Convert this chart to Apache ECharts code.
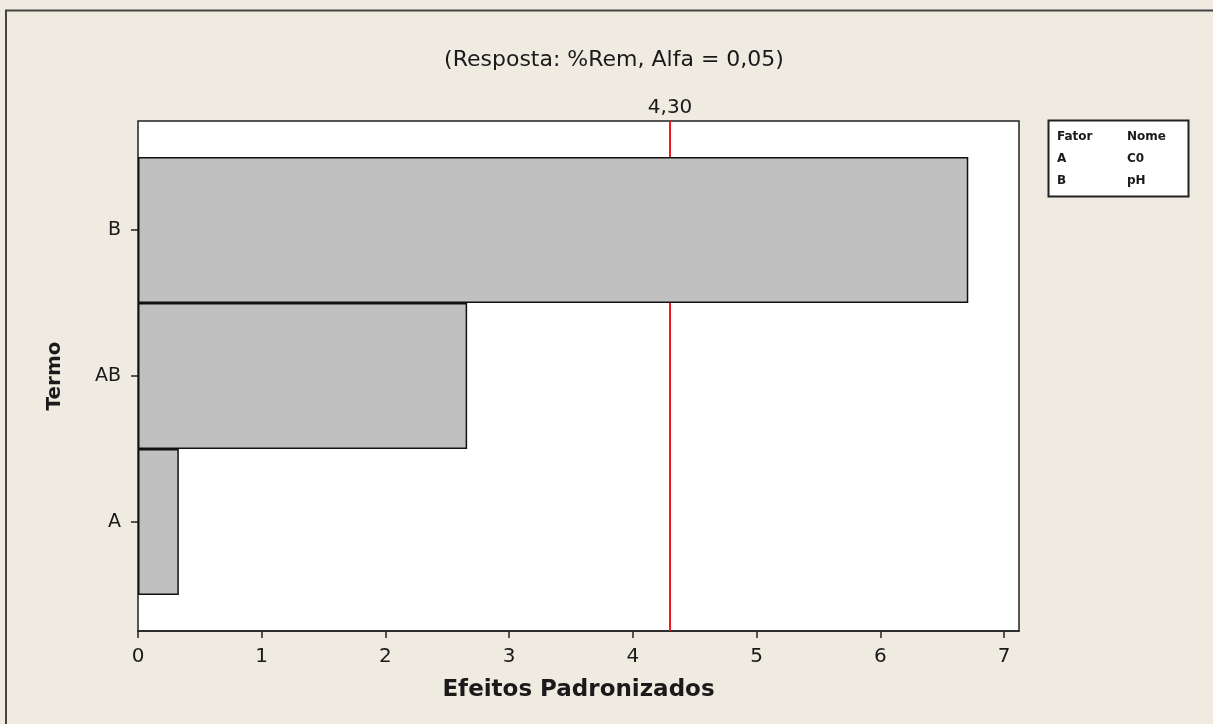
<!DOCTYPE html>
<html>
<head>
<meta charset="utf-8">
<script src="https://cdn.jsdelivr.net/npm/echarts@6/dist/echarts.min.js"></script>
<style>
  html, body { margin: 0; padding: 0; background: #efebe1; }
  #chart { width: 1213px; height: 724px; }
</style>
</head>
<body>
<div id="chart"></div>
<script>
// Pareto of standardized effects
const terms = ['A', 'AB', 'B'];
const effects = [0.33, 2.66, 6.71];
const criticalValue = 4.30;
const criticalLabel = '4,30';
const xTicks = [0, 1, 2, 3, 4, 5, 6, 7];
const legendRows = [['Fator', 'Nome'], ['A', 'C0'], ['B', 'pH']];

const FONT = 'DejaVu Sans';
const INK = '#1a1a1a';

const chart = echarts.init(document.getElementById('chart'));

const legendTexts = [];
legendRows.forEach((row, i) => {
  const y = 137 + i * 22;
  legendTexts.push({
    type: 'text', x: 1057, y: y,
    style: { text: row[0], font: 'bold 12px ' + FONT, fill: INK, verticalAlign: 'middle' }
  });
  legendTexts.push({
    type: 'text', x: 1127, y: y,
    style: { text: row[1], font: 'bold 12px ' + FONT, fill: INK, verticalAlign: 'middle' }
  });
});

chart.setOption({
  backgroundColor: '#efebe1',
  animation: false,
  title: {
    text: '(Resposta: %Rem, Alfa = 0,05)',
    left: 609, top: 44, textAlign: 'center',
    textStyle: { fontFamily: FONT, fontSize: 22, fontWeight: 'normal', color: INK }
  },
  grid: [
    { left: 138, top: 121, width: 881, height: 510, show: true,
      backgroundColor: '#ffffff', borderColor: '#222', borderWidth: 1.5 },
    { left: 138, top: 157, width: 881, height: 438 }
  ],
  xAxis: [
    { type: 'value', gridIndex: 0, min: 0, max: 7.12,
      splitLine: { show: false },
      axisLine: { show: true, lineStyle: { color: '#222', width: 1.5 } },
      axisTick: { show: true, length: 7, customValues: xTicks, lineStyle: { color: '#222', width: 1.5 } },
      axisLabel: { customValues: xTicks, fontFamily: FONT, fontSize: 20, color: INK, margin: 16 },
      name: 'Efeitos Padronizados', nameLocation: 'middle', nameGap: 48,
      nameTextStyle: { fontFamily: FONT, fontSize: 23, fontWeight: 'bold', color: INK }
    },
    { type: 'value', gridIndex: 1, min: 0, max: 7.12, show: false }
  ],
  yAxis: [
    { type: 'value', gridIndex: 0, min: 0, max: 1, show: false },
    { type: 'category', gridIndex: 1, data: terms,
      axisLine: { show: false },
      axisTick: { show: true, alignWithLabel: true, length: 7, lineStyle: { color: '#222', width: 1.5 } },
      axisLabel: { fontFamily: FONT, fontSize: 19, color: INK, margin: 17 },
      name: 'Termo', nameLocation: 'middle', nameGap: 73, nameRotate: 90,
      nameTextStyle: { fontFamily: FONT, fontSize: 20, fontWeight: 'bold', color: INK }
    }
  ],
  series: [
    { type: 'line', xAxisIndex: 0, yAxisIndex: 0, z: 1,
      data: [[criticalValue, 0.5]], showSymbol: false, symbolSize: 0,
      lineStyle: { opacity: 0 },
      markLine: {
        silent: true, z: 1, symbol: ['none', 'none'],
        lineStyle: { color: '#f01a1a', width: 2, type: 'solid' },
        label: { show: true, position: 'end', formatter: criticalLabel,
                 fontFamily: FONT, fontSize: 20, color: INK, distance: 3 },
        data: [{ xAxis: criticalValue }]
      }
    },
    { type: 'bar', xAxisIndex: 1, yAxisIndex: 1, z: 3,
      data: effects, barCategoryGap: 0,
      itemStyle: { color: '#c0c0c0', borderColor: '#111', borderWidth: 1.5 }
    }
  ],
  graphic: [
    { type: 'line', shape: { x1: 5, y1: 10.5, x2: 1213, y2: 10.5 }, style: { stroke: '#444', lineWidth: 2 } },
    { type: 'line', shape: { x1: 6, y1: 10, x2: 6, y2: 724 }, style: { stroke: '#444', lineWidth: 2 } },
    { type: 'rect', shape: { x: 1048.5, y: 120.5, width: 140, height: 76 },
      style: { fill: '#ffffff', stroke: '#222', lineWidth: 2 } },
    ...legendTexts
  ]
});
</script>
</body>
</html>
